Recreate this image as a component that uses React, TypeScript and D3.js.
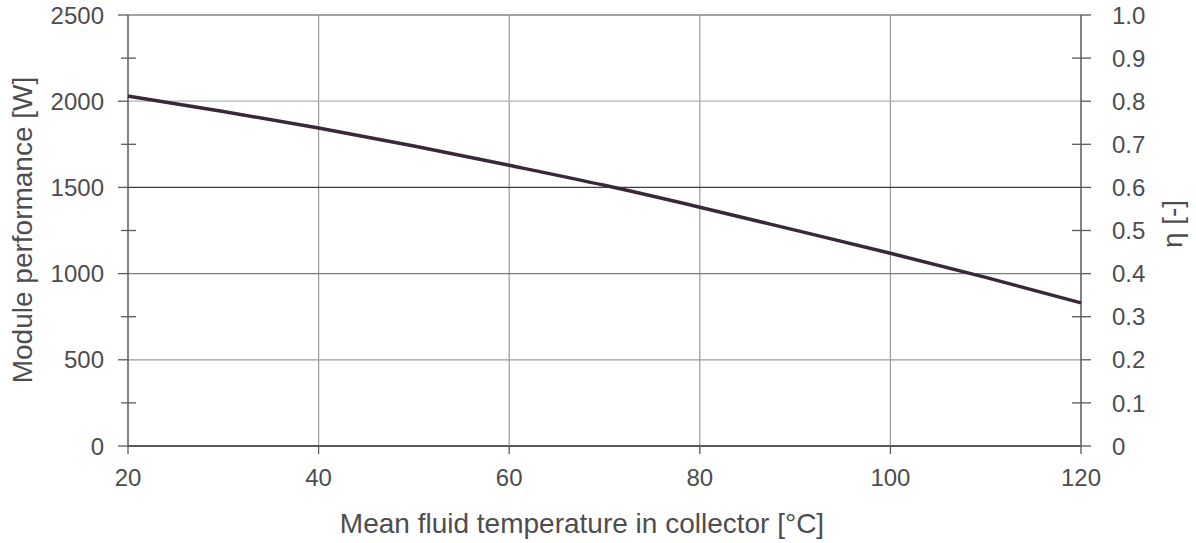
import { useRef, useEffect } from 'react';
import * as d3 from 'd3';

const WIDTH = 1196;
const HEIGHT = 543;
const MARGIN = { top: 15, right: 115, bottom: 97, left: 128 };

// Curve: temperature [°C] -> module performance [W]
const temperatures = [20, 30, 40, 50, 60, 70, 80, 90, 100, 110, 120];
const performance = [2030, 1940, 1845, 1740, 1628, 1512, 1385, 1252, 1118, 978, 830];

const xTicks = [20, 40, 60, 80, 100, 120];
const leftMajor = [0, 500, 1000, 1500, 2000, 2500];
const leftMinor = [250, 750, 1250, 1750, 2250];
const rightMajor = [0, 0.2, 0.4, 0.6, 0.8, 1.0];
const rightMinor = [0.1, 0.3, 0.5, 0.7, 0.9];
const rightLabels = ['0', '0.1', '0.2', '0.3', '0.4', '0.5', '0.6', '0.7', '0.8', '0.9', '1.0'];

// Scanned print: some gridlines came out darker than others.
const hGridColor: Record<number, string> = {
  500: '#9c9c92',
  1000: '#7c7c80',
  1500: '#3e3e40',
  2000: '#a9b6be',
};

const FONT = '"Liberation Sans", Arial, Helvetica, sans-serif';
const TEXT = '#4d4d4f';
const AXIS = '#5a5a5e';
const CURVE = '#3a2836';
const TICK_SIZE = 24;
const TITLE_SIZE = 28;

export default function App() {
  const svgRef = useRef<SVGSVGElement>(null);

  useEffect(() => {
    if (!svgRef.current) return;
    const innerW = WIDTH - MARGIN.left - MARGIN.right;
    const innerH = HEIGHT - MARGIN.top - MARGIN.bottom;

    const x = d3.scaleLinear().domain([20, 120]).range([0, innerW]);
    const y = d3.scaleLinear().domain([0, 2500]).range([innerH, 0]);
    const yEta = d3.scaleLinear().domain([0, 1]).range([innerH, 0]);

    const svg = d3.select(svgRef.current);
    svg.selectAll('*').remove();
    svg.append('rect').attr('width', WIDTH).attr('height', HEIGHT).attr('fill', '#fff');

    const g = svg.append('g').attr('transform', `translate(${MARGIN.left},${MARGIN.top})`);

    // ── Gridlines ──
    g.append('g')
      .selectAll('line')
      .data(xTicks.slice(1, -1))
      .join('line')
      .attr('x1', (d) => x(d)).attr('x2', (d) => x(d))
      .attr('y1', 0).attr('y2', innerH)
      .attr('stroke', '#9a9a9e')
      .attr('stroke-width', 1.2);

    g.append('g')
      .selectAll('line')
      .data(leftMajor.slice(1, -1))
      .join('line')
      .attr('x1', 0).attr('x2', innerW)
      .attr('y1', (d) => y(d)).attr('y2', (d) => y(d))
      .attr('stroke', (d) => hGridColor[d] ?? '#888')
      .attr('stroke-width', 1.3);

    // ── Frame ──
    g.append('line').attr('x1', 0).attr('x2', innerW).attr('y1', 0).attr('y2', 0)
      .attr('stroke', '#858589').attr('stroke-width', 1.6);
    g.append('line').attr('x1', 0).attr('x2', innerW).attr('y1', innerH).attr('y2', innerH)
      .attr('stroke', AXIS).attr('stroke-width', 1.8);
    g.append('line').attr('x1', 0).attr('x2', 0).attr('y1', 0).attr('y2', innerH)
      .attr('stroke', AXIS).attr('stroke-width', 1.5);
    g.append('line').attr('x1', innerW).attr('x2', innerW).attr('y1', 0).attr('y2', innerH)
      .attr('stroke', AXIS).attr('stroke-width', 1.5);

    // ── Left axis ticks ──
    g.append('g').selectAll('line').data(leftMajor).join('line')
      .attr('x1', -10).attr('x2', 0)
      .attr('y1', (d) => y(d)).attr('y2', (d) => y(d))
      .attr('stroke', AXIS).attr('stroke-width', 1.3);
    g.append('g').selectAll('line').data(leftMinor).join('line')
      .attr('x1', -7).attr('x2', 8)
      .attr('y1', (d) => y(d)).attr('y2', (d) => y(d))
      .attr('stroke', AXIS).attr('stroke-width', 1.3);
    g.append('g').selectAll('text').data(leftMajor).join('text')
      .attr('x', -24)
      .attr('y', (d) => y(d))
      .attr('dy', '0.36em')
      .attr('text-anchor', 'end')
      .attr('fill', TEXT)
      .attr('font-family', FONT)
      .attr('font-size', TICK_SIZE)
      .text((d) => String(d));

    // ── Right axis (efficiency) ──
    g.append('g').selectAll('line').data(rightMajor).join('line')
      .attr('x1', innerW).attr('x2', innerW + 10)
      .attr('y1', (d) => yEta(d)).attr('y2', (d) => yEta(d))
      .attr('stroke', AXIS).attr('stroke-width', 1.3);
    g.append('g').selectAll('line').data(rightMinor).join('line')
      .attr('x1', innerW - 9).attr('x2', innerW + 10)
      .attr('y1', (d) => yEta(d)).attr('y2', (d) => yEta(d))
      .attr('stroke', AXIS).attr('stroke-width', 1.3);
    g.append('g').selectAll('text').data(rightLabels).join('text')
      .attr('x', innerW + 31)
      .attr('y', (d) => yEta(+d))
      .attr('dy', '0.36em')
      .attr('fill', TEXT)
      .attr('font-family', FONT)
      .attr('font-size', TICK_SIZE)
      .text((d) => d);

    // ── Bottom axis ──
    g.append('g').selectAll('line').data(xTicks).join('line')
      .attr('x1', (d) => x(d)).attr('x2', (d) => x(d))
      .attr('y1', innerH).attr('y2', innerH + 8)
      .attr('stroke', AXIS).attr('stroke-width', 1.3);
    g.append('g').selectAll('text').data(xTicks).join('text')
      .attr('x', (d) => x(d))
      .attr('y', innerH + 31)
      .attr('dy', '0.36em')
      .attr('text-anchor', 'middle')
      .attr('fill', TEXT)
      .attr('font-family', FONT)
      .attr('font-size', TICK_SIZE)
      .text((d) => String(d));

    // ── Axis titles ──
    g.append('text')
      .attr('x', 582 - MARGIN.left)
      .attr('y', innerH + 77)
      .attr('dy', '0.36em')
      .attr('text-anchor', 'middle')
      .attr('fill', TEXT)
      .attr('font-family', FONT)
      .attr('font-size', TITLE_SIZE)
      .text('Mean fluid temperature in collector [°C]');

    g.append('text')
      .attr('transform', `translate(${22 - MARGIN.left},${230 - MARGIN.top}) rotate(-90)`)
      .attr('dy', '0.36em')
      .attr('text-anchor', 'middle')
      .attr('fill', TEXT)
      .attr('font-family', FONT)
      .attr('font-size', TITLE_SIZE)
      .text('Module performance [W]');

    g.append('text')
      .attr('transform', `translate(${1172 - MARGIN.left},${224 - MARGIN.top}) rotate(-90)`)
      .attr('dy', '0.36em')
      .attr('text-anchor', 'middle')
      .attr('fill', TEXT)
      .attr('font-family', FONT)
      .attr('font-size', TITLE_SIZE)
      .text('η [-]');

    // ── Performance curve ──
    const line = d3.line<number>()
      .x((_, i) => x(temperatures[i]))
      .y((d) => y(d))
      .curve(d3.curveMonotoneX);

    g.append('path')
      .datum(performance)
      .attr('fill', 'none')
      .attr('stroke', CURVE)
      .attr('stroke-width', 3.5)
      .attr('stroke-linejoin', 'round')
      .attr('d', line);
  }, []);

  return (
    <svg
      ref={svgRef}
      width={WIDTH}
      height={HEIGHT}
      style={{ position: 'absolute', left: 0, top: 0, display: 'block' }}
    />
  );
}
